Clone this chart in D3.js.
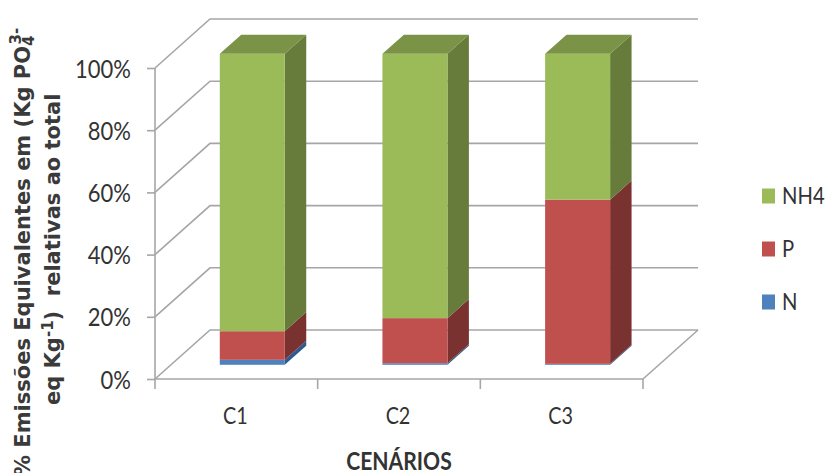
<!DOCTYPE html>
<html>
<head>
<meta charset="utf-8">
<script src="https://cdn.jsdelivr.net/npm/d3@7/dist/d3.min.js"></script>
<style>
  html, body { margin: 0; padding: 0; background: #fff; overflow: hidden; }
  svg text { fill: #333; }
  svg text.narrow { font-family: Lato, sans-serif; }
  svg text.title { font-family: "DejaVu Sans", Verdana, sans-serif; font-size: 21px; font-weight: bold; fill: #3a3a3a; }
</style>
</head>
<body>
<svg id="chart" width="826" height="473"></svg>
<script>
// Share of equivalent emissions per scenario, in percent
const categories = ["C1", "C2", "C3"];
const seriesNames = ["N", "P", "NH4"];
const nValues = [1.6, 0.5, 0.3];
const pValues = [9.2, 14.5, 52.8];
const nh4Values = [89.2, 85.0, 46.9];
const yTicks = [0, 20, 40, 60, 80, 100];

const frontColors = { N: "#4F81BD", P: "#C0504D", NH4: "#9BBB59" };
const sideColors = { N: "#2F5A8F", P: "#7A3230", NH4: "#677B3A" };
const topColors = { N: "#3F6CA3", P: "#9A403D", NH4: "#7A9346" };

const rows = categories.map((c, i) => ({ category: c, N: nValues[i], P: pValues[i], NH4: nh4Values[i] }));
const stacked = d3.stack().keys(seriesNames)(rows);

const svg = d3.select("#chart");

// Front plane of the 3D box
const x = d3.scaleBand().domain(categories).range([155, 643]);
const y = d3.scaleLinear().domain([0, 100]).range([379, 68]);

// Oblique depth: 0 at the front plane, 1 at the back wall
const depth = { dx: 55, dy: -49 };
const project = (px, py, d) => [px + depth.dx * d, py + depth.dy * d];

const barFront = 0.29, barDepth = 0.39, barWidth = 65;
const gridColor = "#A6A6A6";
const line = d3.line();

// Squeeze a label horizontally to get a condensed face
function condense(selection, ratio) {
  selection.each(function () {
    const w = this.getComputedTextLength();
    d3.select(this).attr("textLength", w * ratio).attr("lengthAdjust", "spacingAndGlyphs");
  });
}

// Floor and wall gridlines
const grid = svg.append("g").attr("fill", "none").attr("stroke", gridColor).attr("stroke-width", 1.6);
grid.selectAll("path").data(yTicks).join("path")
  .attr("d", t => line([
    project(x.range()[0], y(t), 0),
    project(x.range()[0], y(t), 1),
    project(x.range()[1], y(t), 1)
  ]));
grid.append("path").attr("d", line([
  project(x.range()[1], y(0), 1),
  project(x.range()[1], y(0), 0)
]));

// Value axis
const yAxis = svg.append("g").attr("transform", `translate(${x.range()[0]},0)`)
  .call(d3.axisLeft(y).tickValues(yTicks).tickFormat(d => d + "%").tickSize(8).tickPadding(16));
yAxis.selectAll("line, path").attr("stroke", gridColor).attr("stroke-width", 1.6);
yAxis.select(".domain").attr("d", `M0,${y(0)}V${y(100)}`);
yAxis.selectAll("text").attr("class", "narrow").style("font-size", "25px").attr("dy", "0.36em").call(condense, 0.88);

// Category axis
const xAxis = svg.append("g").attr("transform", `translate(0,${y(0)})`)
  .call(d3.axisBottom(x).tickFormat(d => d).tickSize(0).tickPadding(29));
xAxis.select(".domain").attr("stroke", gridColor).attr("stroke-width", 1.6).attr("d", `M${x.range()[0]},0H${x.range()[1]}`);
xAxis.selectAll("line").remove();
xAxis.selectAll("text").attr("class", "narrow").style("font-size", "23px").attr("dy", "0.71em")
  .attr("x", -1).call(condense, 0.86);
const boundaries = [x.range()[0], ...categories.map(c => x(c) + x.bandwidth())];
xAxis.selectAll("line.sep").data(boundaries).join("line").attr("class", "sep")
  .attr("x1", d => d).attr("x2", d => d).attr("y1", 0).attr("y2", 10)
  .attr("stroke", gridColor).attr("stroke-width", 1.6);

// Stacked 3D columns
const bars = svg.append("g");
categories.forEach((c, i) => {
  const g = bars.append("g").attr("class", "bar-" + c);
  const x0 = x(c) + x.bandwidth() / 2 - barWidth / 2 + depth.dx * barFront;
  const x1 = x0 + barWidth;
  const yAt = v => y(v) + depth.dy * barFront;
  stacked.forEach(layer => {
    const [v0, v1] = layer[i];
    const key = layer.key;
    g.append("path").attr("fill", sideColors[key]).attr("d", line([
      [x1, yAt(v0)], [x1, yAt(v1)],
      [x1 + depth.dx * barDepth, yAt(v1) + depth.dy * barDepth],
      [x1 + depth.dx * barDepth, yAt(v0) + depth.dy * barDepth]
    ]) + "Z");
    g.append("rect").attr("fill", frontColors[key])
      .attr("x", x0).attr("y", yAt(v1)).attr("width", barWidth).attr("height", yAt(v0) - yAt(v1));
  });
  const topLayer = stacked[stacked.length - 1];
  const vTop = topLayer[i][1];
  g.append("path").attr("fill", topColors[topLayer.key]).attr("d", line([
    [x0, yAt(vTop)], [x1, yAt(vTop)],
    [x1 + depth.dx * barDepth, yAt(vTop) + depth.dy * barDepth],
    [x0 + depth.dx * barDepth, yAt(vTop) + depth.dy * barDepth]
  ]) + "Z");
});

// Legend, top entry first
const legendY = d3.scalePoint().domain(seriesNames).range([302, 196]);
const legend = svg.append("g").selectAll("g").data(seriesNames).join("g")
  .attr("transform", d => `translate(762,${legendY(d)})`);
legend.append("rect").attr("x", 0).attr("y", -7.5).attr("width", 13).attr("height", 15)
  .attr("fill", d => frontColors[d]);
legend.append("text").attr("class", "narrow").attr("x", 20).attr("y", 0).attr("dy", "0.36em")
  .style("font-size", "23px").text(d => d).call(condense, 0.88);

// Axis titles
svg.append("text").attr("class", "narrow").attr("x", 399).attr("y", 470)
  .attr("text-anchor", "middle").style("font-size", "24px").style("font-weight", "bold")
  .text("CENÁRIOS").call(condense, 0.88);

const t1 = svg.append("text").attr("class", "title").attr("transform", "translate(30,476) rotate(-90)");
t1.append("tspan").text("% Emissões Equivalentes em (Kg PO");
t1.append("tspan").attr("dy", 4).style("font-size", "15px").text("4");
t1.append("tspan").attr("dy", -13).attr("dx", -9).style("font-size", "15px").text("3-");

const t2 = svg.append("text").attr("class", "title").attr("transform", "translate(60,405) rotate(-90)");
t2.append("tspan").text("eq Kg");
t2.append("tspan").attr("dy", -7).style("font-size", "15px").text("-1");
t2.append("tspan").attr("dy", 7).text(")\u00A0\u00A0relativas ao total");
</script>
</body>
</html>
